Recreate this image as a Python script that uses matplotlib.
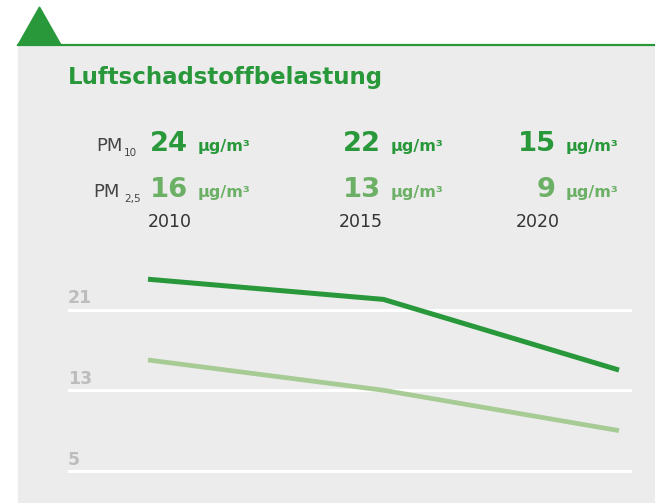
import numpy as np
import matplotlib
matplotlib.use('Agg')
from matplotlib import pyplot as plt
from matplotlib.patches import Rectangle, Polygon

years = ["2010", "2015", "2020"]
pm10 = [24, 22, 15]
pm25 = [16, 13, 9]
yticks = [5, 13, 21]
title = "Luftschadstoffbelastung"
unit = "µg/m³"

dark = "#28983a"
light_txt = "#6cb065"
light_line = "#a6cb94"
bg = "#ececec"

plt.rcParams['font.family'] = ['DejaVu Sans']

W, H = 655, 503
fig = plt.figure(figsize=(W / 100, H / 100), dpi=100)

def px(x, y):
    return x / W, 1 - y / H

# panel, header line and triangle
fig.patches.append(Rectangle(px(18, H), (W - 18) / W, (H - 45) / H,
                             transform=fig.transFigure, color=bg, zorder=0))
fig.add_artist(plt.Line2D([18 / W, 1], [1 - 44.5 / H] * 2, color=dark, lw=1.6))
fig.patches.append(Polygon([px(18, 45), px(39.5, 7), px(61, 45)],
                           transform=fig.transFigure, color=dark, zorder=1))

fig.text(*px(68, 84), title, color=dark, fontsize=16.5, fontweight='bold', va='baseline')

# key figures (numbers right-aligned per column)
num_right = [188, 381, 556]
year_x = [148, 339, 516]
for i, x in enumerate(num_right):
    fig.text(*px(x, 151), str(pm10[i]), color=dark, fontsize=19.7,
             fontweight='bold', va='baseline', ha='right')
    fig.text(*px(x + 10, 151), unit, color=dark, fontsize=11.5,
             fontweight='bold', va='baseline')
    fig.text(*px(x, 197), str(pm25[i]), color=light_txt, fontsize=19.7,
             fontweight='bold', va='baseline', ha='right')
    fig.text(*px(x + 10, 197), unit, color=light_txt, fontsize=11.5,
             fontweight='bold', va='baseline')
    fig.text(*px(year_x[i], 227), years[i], color="#333333", fontsize=12.5, va='baseline')

fig.text(*px(96, 151), "PM", color="#444444", fontsize=13, va='baseline')
fig.text(*px(124, 156), "10", color="#444444", fontsize=7.5, va='baseline')
fig.text(*px(93, 197), "PM", color="#444444", fontsize=13, va='baseline')
fig.text(*px(124, 202), "2,5", color="#444444", fontsize=7.5, va='baseline')

# line chart
left, right, top, bottom = 68, 632, 260, 480
ax = fig.add_axes([left / W, 1 - bottom / H, (right - left) / W, (bottom - top) / H],
                  zorder=5)
ax.patch.set_alpha(0)
scale = (471 - 309.5) / 16
ax.set_ylim(5 - (bottom - 471) / scale, 21 + (309.5 - top) / scale)
xs = np.arange(len(years))
xscale = (619 - 148) / 2
ax.set_xlim(-(148 - left) / xscale, 2 + (right - 619) / xscale)
for v in yticks:
    ax.axhline(v, color='white', lw=2.2, zorder=1)
    ax.text(ax.get_xlim()[0], v + 0.64, str(v), color="#bdbdbd", fontsize=12.5,
            fontweight='bold', va='baseline', ha='left')
ax.plot(xs, pm10, color=dark, lw=3.6, solid_capstyle='butt', zorder=3)
ax.plot(xs, pm25, color=light_line, lw=3.4, solid_capstyle='butt', zorder=2)
ax.axis('off')

fig.savefig("out.png", dpi=100, facecolor='white')
